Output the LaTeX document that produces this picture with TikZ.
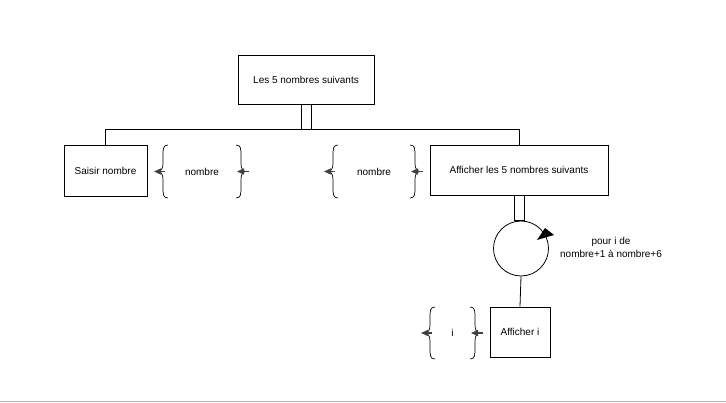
\documentclass[tikz,border=0pt]{standalone}
\usepackage{fontspec}
\setmainfont{Liberation Sans}
\usetikzlibrary{arrows.meta}

\tikzset{
  boite/.style={draw, line width=0.8pt, inner sep=0pt},
  accolade/.style={line width=0.7pt},
  flux/.style={-{Triangle[width=6pt,length=7pt]}, line width=1.2pt, black!75},
  lien/.style={line width=0.8pt}
}

\begin{document}
\begin{tikzpicture}[x=1pt, y=-1pt, font=\fontsize{10}{13}\selectfont]
\useasboundingbox (0,0) rectangle (726,403);

\node[boite, minimum width=136pt, minimum height=49pt] (titre) at (306,79.5) {Les 5 nombres suivants};
\node[boite, minimum width=83pt, minimum height=51pt] (saisir) at (105.5,170.5) {Saisir nombre};
\node[boite, minimum width=178pt, minimum height=50pt] (afficher) at (519,170) {Afficher les 5 nombres suivants};
\node[draw, lien, circle, minimum size=55pt, inner sep=0pt] (boucle) at (521,248.5) {};
\node[boite, minimum width=60pt, minimum height=50pt] (affi) at (520,332) {Afficher i};
\node[align=center] (cond) at (611,247) {pour i de\\nombre+1 à nombre+6};

\coordinate (barre) at (306,129);
\draw[lien] ([xshift=-5pt]titre.south) rectangle ([xshift=5pt]titre.south |- barre);
\draw[lien] (saisir.north |- barre) -- (afficher.north |- barre);
\draw[lien] (saisir.north) -- (saisir.north |- barre);
\draw[lien] (afficher.north) -- (afficher.north |- barre);
\draw[lien] ([xshift=-5pt]afficher.south) rectangle ([xshift=5pt]afficher.south |- boucle.north);
\draw[lien] (boucle.south) -- (affi.north);
\fill (537,240) -- (545,228) -- (554,235) -- cycle;

\foreach \g/\d/\h/\b/\t [count=\n] in {168/236/145/198/nombre, 338/410/145/198/nombre, 435/470/307/359/i}
{
	\pgfmathsetmacro\m{(\h+\b)/2}
	\draw[accolade] (\g,\h) .. controls ({\g-5},\h) and ({\g-5},{\h+4}) .. ({\g-5},{\h+11}) -- ({\g-5},{\m-8})
		.. controls ({\g-5},{\m-3}) and ({\g-7},\m) .. ({\g-10},\m)
		.. controls ({\g-7},\m) and ({\g-5},{\m+3}) .. ({\g-5},{\m+8}) -- ({\g-5},{\b-11})
		.. controls ({\g-5},{\b-4}) and ({\g-5},\b) .. (\g,\b);
	\draw[accolade] (\d,\h) .. controls ({\d+5},\h) and ({\d+5},{\h+4}) .. ({\d+5},{\h+11}) -- ({\d+5},{\m-8})
		.. controls ({\d+5},{\m-3}) and ({\d+7},\m) .. ({\d+10},\m)
		.. controls ({\d+7},\m) and ({\d+5},{\m+3}) .. ({\d+5},{\m+8}) -- ({\d+5},{\b-11})
		.. controls ({\d+5},{\b-4}) and ({\d+5},\b) .. (\d,\b);
	\node (donnee\n) at ({(\g+\d)/2},\m) {\t};
	\draw[flux] ({\g-3},\m) -- ({\g-14},\m);
	\draw[flux] ({\d+13},\m) -- ({\d+1},\m);
}

\draw[gray!60, line width=1pt] (0,401.5) -- (726,401.5);
\end{tikzpicture}
\end{document}
